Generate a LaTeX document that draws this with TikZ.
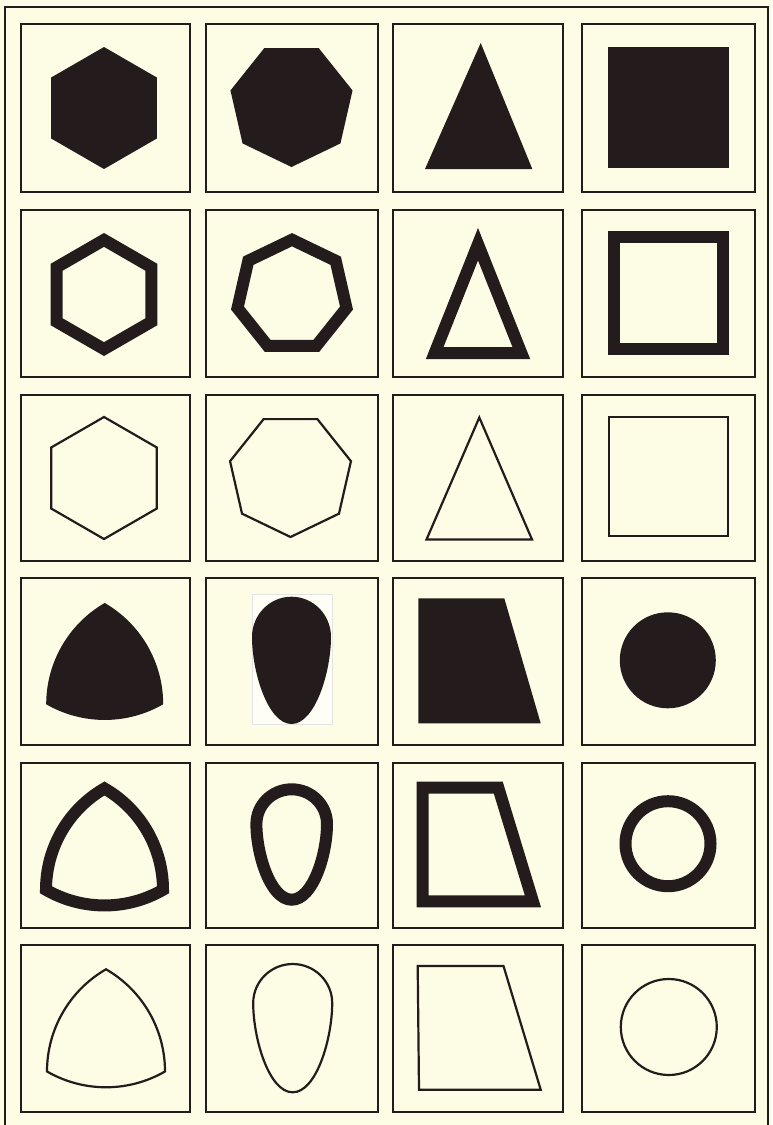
\documentclass[tikz,border=0pt]{standalone}
\usepackage{xcolor}
\usepackage{tikz}

\definecolor{paper}{RGB}{253,252,229}
\definecolor{ink}{RGB}{36,28,28}

% regular polygon: style, cx, cy, radius, sides, angle of first corner
\newcommand{\ngon}[6]{%
  \path[#1] ({#2+#4*cos(#6)},{#3+#4*sin(#6)})
    \foreach \k in {2,...,#5} { -- ({#2+#4*cos(#6+360*(\k-1)/#5)},{#3+#4*sin(#6+360*(\k-1)/#5)}) }
    -- cycle;}
% curved triangle: style, cx, cy, width
\newcommand{\reuleaux}[4]{%
  \pgfmathsetmacro{\rrad}{#4/sqrt(3)}
  \path[#1] ({#2-#4/2},{#3+\rrad/2})
    arc[start angle=120, end angle=60, radius=#4]
    arc[start angle=0, end angle=-60, radius=#4]
    arc[start angle=240, end angle=180, radius=#4] -- cycle;}
% egg: style, cx, top, widest y, bottom, half width
\newcommand{\egg}[6]{%
  \path[#1] (#2,#3)
    .. controls ({#2+0.552*#6},#3) and ({#2+#6},{#4-0.552*(#4-#3)}) .. ({#2+#6},#4)
    .. controls ({#2+#6},{#4+0.4*(#5-#4)}) and ({#2+0.6*#6},#5) .. (#2,#5)
    .. controls ({#2-0.6*#6},#5) and ({#2-#6},{#4+0.4*(#5-#4)}) .. ({#2-#6},#4)
    .. controls ({#2-#6},{#4-0.552*(#4-#3)}) and ({#2-0.552*#6},#3) .. (#2,#3) -- cycle;}

\begin{document}
\begin{tikzpicture}[x=1pt, y=-1pt,
    card/.style={draw=ink, line width=1.8pt},
    blot/.style={fill=ink},
    band/.style={draw=ink, line width=12pt, line join=miter},
    hair/.style={draw=ink, line width=2.2pt, line join=miter}
]

\useasboundingbox (0,0) rectangle (772,1125);
\fill[paper] (0,0) rectangle (772,1125);

% --- plate frame and cards ---
\draw[ink, line width=2.6pt] (5,1125) -- (5,7) -- (768,7) -- (768,1125);
\foreach \xa/\xb in {21/190, 206/378, 393/563, 582/755}
  \foreach \ya/\yb in {24/192, 210/377, 395/561, 578/745, 763/928, 945/1112}
    \draw[card] (\xa,\ya) rectangle (\xb,\yb);

% --- row 1: solid ---
\ngon{blot}{104}{108}{61}{6}{270}
\ngon{blot}{291.5}{104.4}{62.6}{7}{90}
\path[blot] (480.7,43) -- (532.3,169) -- (425,169) -- cycle;
\path[blot] (608.3,46.7) rectangle (729,168);

% --- row 2: broad outline ---
\ngon{band}{104}{294.5}{54.6}{6}{270}
\ngon{band}{292}{295.6}{55.9}{7}{270}
\path[band] (478,244.2) -- (521.3,353) -- (434.7,353) -- cycle;
\path[band] (614,237) rectangle (723,349);

% --- row 3: line ---
\ngon{hair}{104}{478}{61}{6}{270}
\ngon{hair}{290.5}{475}{62}{7}{90}
\path[hair] (479.3,417.5) -- (532,539.5) -- (426.5,539.5) -- cycle;
\path[hair] (608.7,417) rectangle (728,535.7);

% --- row 4: solid ---
\reuleaux{blot}{104.7}{670.5}{117}
\path[fill=white!60!paper, draw=ink!12] (252.3,594.3) rectangle (332.3,724);
\egg{blot}{291.5}{596.7}{637}{724}{39.5}
\path[blot] (418.3,598.3) -- (504.3,598.3) -- (540.7,723.3) -- (418.3,723.3) -- cycle;
\path[blot] (667.8,660.3) circle[radius=48];

% --- row 5: broad outline ---
\reuleaux{band}{104.5}{856}{117}
\egg{band}{291.7}{789.3}{824}{899.7}{35.3}
\path[band] (422.7,787.7) -- (498.3,787.7) -- (532.9,901.3) -- (422.7,901.3) -- cycle;
\path[band] (668,843.7) circle[radius=42.5];

% --- row 6: line ---
\reuleaux{hair}{106}{1037.4}{118}
\egg{hair}{292.7}{964}{1003}{1092.3}{39.5}
\path[hair] (417.7,966) -- (503.5,966) -- (540.7,1089.7) -- (419,1089.7) -- cycle;
\path[hair] (668.8,1027) circle[radius=48];

\end{tikzpicture}
\end{document}
